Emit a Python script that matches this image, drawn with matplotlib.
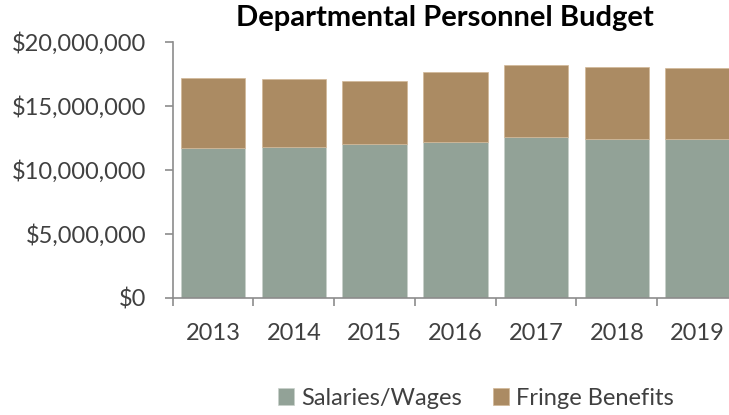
import matplotlib
matplotlib.use("Agg")
import matplotlib.pyplot as plt
from matplotlib.ticker import FuncFormatter, FixedLocator

years = ["2013", "2014", "2015", "2016", "2017", "2018", "2019"]
salaries = [11.67e6, 11.80e6, 11.98e6, 12.16e6, 12.53e6, 12.37e6, 12.37e6]
fringe = [5.47e6, 5.29e6, 4.92e6, 5.44e6, 5.67e6, 5.65e6, 5.58e6]

plt.rcParams['font.family'] = ['Lato', 'DejaVu Sans']

sal_color = "#92A297"
fr_color = "#AB8B63"
txt = "#404040"
spine = "#8C8C8C"

fig = plt.figure(figsize=(7.29, 4.15), dpi=100)
ax = fig.add_axes([172.7/729, 117.3/415, (738-172.7)/729, (297.7-41.7)/415])

x = list(range(len(years)))
b1 = ax.bar(x, salaries, width=0.8, color=sal_color, edgecolor="#C9D0CB", linewidth=0.5, label="Salaries/Wages")
b2 = ax.bar(x, fringe, bottom=salaries, width=0.8, color=fr_color, edgecolor="#D2B897", linewidth=0.5, label="Fringe Benefits")

ax.set_xlim(-0.5, len(years) - 0.5)
ax.set_ylim(0, 20e6)
ax.set_yticks([0, 5e6, 10e6, 15e6, 20e6])
ax.yaxis.set_major_formatter(FuncFormatter(lambda v, p: "${:,.0f}".format(v)))
ax.set_xticks(x)
ax.set_xticklabels(years)
ax.xaxis.set_minor_locator(FixedLocator([i - 0.5 for i in range(len(years) + 1)]))
ax.tick_params(axis="x", which="major", length=0, pad=18, labelsize=17, labelcolor=txt)
ax.tick_params(axis="x", which="minor", length=6, width=1.2, color=spine, direction="out")
ax.tick_params(axis="y", length=6, width=1.2, color=spine, labelsize=17, labelcolor=txt, pad=13)

for s in ["top", "right"]:
    ax.spines[s].set_visible(False)
for s in ["left", "bottom"]:
    ax.spines[s].set_color(spine)
    ax.spines[s].set_linewidth(1.2)

fig.text(445/729, 1 - 18/415, "Departmental Personnel Budget", ha="center", va="center",
         fontsize=21, fontweight="bold", color="black")

fig.legend(handles=[b1, b2], labels=["Salaries/Wages", "Fringe Benefits"], loc="center",
           bbox_to_anchor=(476/729, 1 - 398/415), ncol=2, frameon=False, fontsize=17,
           handlelength=0.7, handleheight=0.7, handletextpad=0.3, columnspacing=1.3,
           labelcolor=txt)

fig.savefig("out.png", dpi=100)
